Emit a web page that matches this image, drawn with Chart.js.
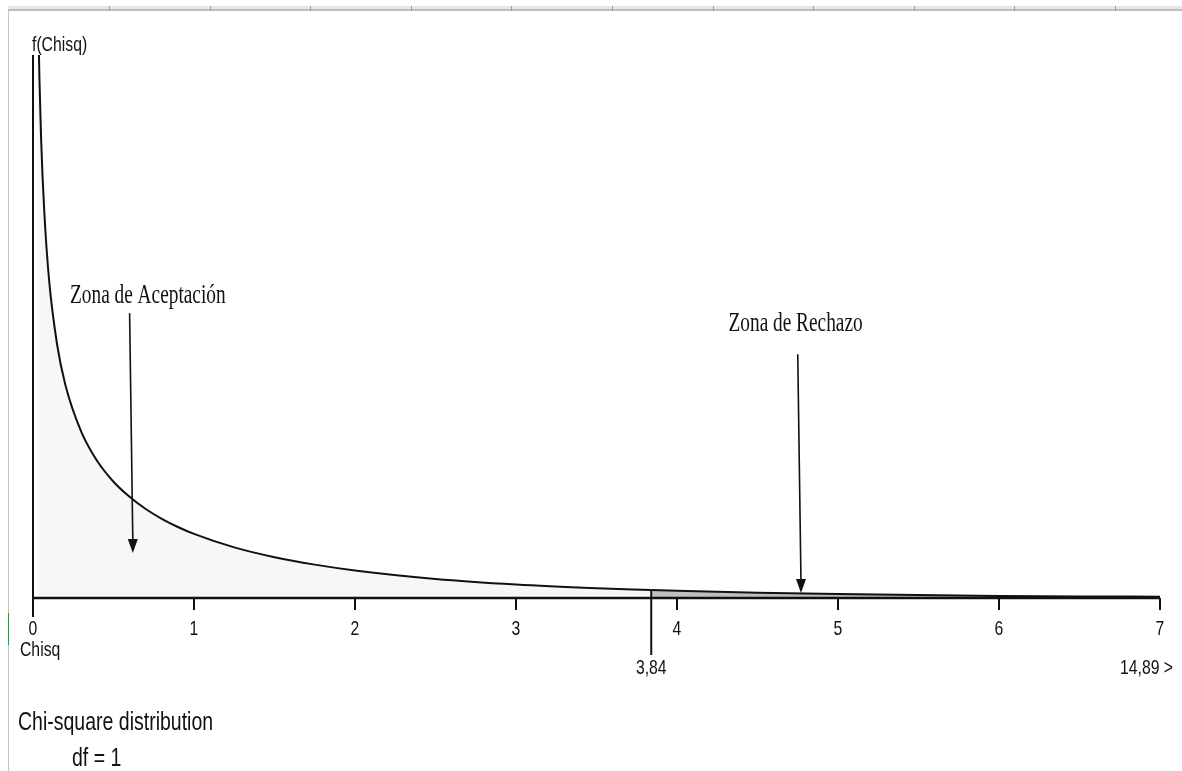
<!DOCTYPE html>
<html>
<head>
<meta charset="utf-8">
<script src="https://cdn.jsdelivr.net/npm/chart.js@4.4.1/dist/chart.umd.min.js"></script>
<style>
html, body { margin: 0; padding: 0; background: #fff; }
#wrap { width: 1182px; height: 771px; position: relative; }
</style>
</head>
<body>
<div id="wrap"><canvas id="chiChart"></canvas></div>
<script>
// densidad chi-cuadrado (df = 1)
const chisqX = [0.03, 0.04, 0.05, 0.07, 0.1, 0.15, 0.2, 0.3, 0.4, 0.5, 0.6, 0.7, 0.8, 0.9, 1.0,
                1.25, 1.5, 1.75, 2.0, 2.5, 3.0, 3.5, 3.84, 4.0, 4.5, 5.0, 5.5, 6.0, 6.5, 7.0];
const density = [2.27, 1.96, 1.74, 1.46, 1.20, 0.956, 0.807, 0.627, 0.516, 0.439, 0.382, 0.336, 0.299, 0.268, 0.242,
                 0.191, 0.154, 0.126, 0.104, 0.072, 0.051, 0.037, 0.030, 0.027, 0.020, 0.015, 0.011, 0.008, 0.006, 0.005];
const xTicks = [0, 1, 2, 3, 4, 5, 6, 7];
const critical = 3.84;
const criticalLabel = '3,84';
const maxLabel = '14,89 >';
const yTitle = 'f(Chisq)';
const xTitle = 'Chisq';
const chartTitle = ['Chi-square distribution', 'df = 1'];
// textos con flecha: [texto, x texto, y texto, x flecha arriba, y arriba, x punta, y punta]
const zonas = [
    ['Zona de Aceptación', 0.23, 1.113, 0.60, 1.075, 0.62, 0.17],
    ['Zona de Rechazo', 4.32, 1.008, 4.75, 0.92, 4.77, 0.019]
];

const accept = chisqX.map((x, i) => ({ x: x, y: density[i] })).filter(p => p.x <= critical);
const reject = chisqX.map((x, i) => ({ x: x, y: density[i] })).filter(p => p.x >= critical);

const SANS = '"Liberation Sans", Arial, sans-serif';
const SERIF = '"Liberation Serif", "Times New Roman", serif';

function txt(ctx, s, x, y, font, align, base, hs) {
    ctx.save();
    ctx.font = font;
    ctx.textAlign = align;
    ctx.textBaseline = base;
    ctx.fillStyle = '#111';
    ctx.translate(x, y);
    ctx.scale(hs, 1);
    ctx.fillText(s, 0, 0);
    ctx.restore();
}

const marco = {
    id: 'marco',
    beforeDraw(chart) {
        const ctx = chart.ctx;
        ctx.save();
        ctx.fillStyle = '#fff';
        ctx.fillRect(0, 0, chart.width, chart.height);
        // restos de la hoja de cálculo
        ctx.fillStyle = '#e6e6e6';
        ctx.fillRect(8, 6, chart.width - 8, 3);
        ctx.fillStyle = '#bdbdbd';
        ctx.fillRect(8, 9, chart.width - 8, 2);
        ctx.fillStyle = '#999';
        for (let c = 109; c < chart.width; c += 100.6) ctx.fillRect(Math.round(c), 6, 1, 5);
        ctx.fillStyle = '#c4c4c4';
        ctx.fillRect(8, 11, 1, chart.height - 11);
        ctx.fillStyle = '#3c8c50';
        ctx.fillRect(8, 613, 1, 32);
        ctx.restore();
    }
};

const ejes = {
    id: 'ejes',
    afterDatasetsDraw(chart) {
        const ctx = chart.ctx;
        const xs = chart.scales.x, ys = chart.scales.y;
        const a = chart.chartArea;
        const y0 = ys.getPixelForValue(0);
        ctx.save();
        ctx.strokeStyle = '#111';
        ctx.lineWidth = 2;
        // eje y
        ctx.beginPath();
        ctx.moveTo(xs.getPixelForValue(0), a.top);
        ctx.lineTo(xs.getPixelForValue(0), y0 + 19);
        ctx.stroke();
        // eje x
        ctx.lineWidth = 2.5;
        ctx.beginPath();
        ctx.moveTo(xs.getPixelForValue(0), y0);
        ctx.lineTo(xs.getPixelForValue(7), y0);
        ctx.stroke();
        ctx.lineWidth = 2;
        xTicks.forEach(t => {
            const px = xs.getPixelForValue(t);
            if (t > 0) {
                ctx.beginPath();
                ctx.moveTo(px, y0);
                ctx.lineTo(px, y0 + 12);
                ctx.stroke();
            }
            txt(ctx, String(t), px, y0 + 31, '21px ' + SANS, 'center', 'middle', 0.75);
        });
        // valor crítico
        const pc = xs.getPixelForValue(critical);
        ctx.beginPath();
        ctx.moveTo(pc, ys.getPixelForValue(density[chisqX.indexOf(critical)]));
        ctx.lineTo(pc, y0 + 57);
        ctx.stroke();
        txt(ctx, criticalLabel, pc, y0 + 70, '21px ' + SANS, 'center', 'middle', 0.75);
        txt(ctx, maxLabel, a.right + 13, y0 + 70, '21px ' + SANS, 'right', 'middle', 0.75);
        txt(ctx, xTitle, xs.getPixelForValue(0) - 13, y0 + 52, '21px ' + SANS, 'left', 'middle', 0.75);
        txt(ctx, yTitle, xs.getPixelForValue(0) - 1, a.top - 10, '21px ' + SANS, 'left', 'middle', 0.75);
        txt(ctx, chartTitle[0], 18, y0 + 125, '26px ' + SANS, 'left', 'middle', 0.75);
        txt(ctx, chartTitle[1], 72, y0 + 161, '26px ' + SANS, 'left', 'middle', 0.75);
        // zonas con flechas
        ctx.lineWidth = 1.6;
        ctx.fillStyle = '#111';
        zonas.forEach(z => {
            txt(ctx, z[0], xs.getPixelForValue(z[1]), ys.getPixelForValue(z[2]), '28px ' + SERIF, 'left', 'alphabetic', 0.69);
            const x1 = xs.getPixelForValue(z[3]), y1 = ys.getPixelForValue(z[4]);
            const x2 = xs.getPixelForValue(z[5]), y2 = ys.getPixelForValue(z[6]);
            ctx.beginPath();
            ctx.moveTo(x1, y1);
            ctx.lineTo(x2, y2 - 12);
            ctx.stroke();
            ctx.beginPath();
            ctx.moveTo(x2, y2);
            ctx.lineTo(x2 - 5, y2 - 14);
            ctx.lineTo(x2 + 5, y2 - 14);
            ctx.closePath();
            ctx.fill();
        });
        ctx.restore();
    }
};

const ctx = document.getElementById('chiChart').getContext('2d');
const chiChart = new Chart(ctx, {
    type: 'line',
    data: {
        datasets: [
            {
                label: 'Aceptación',
                data: accept,
                borderColor: '#111',
                borderWidth: 2,
                backgroundColor: '#f7f7f7',
                fill: 'origin',
                pointRadius: 0,
                cubicInterpolationMode: 'monotone'
            },
            {
                label: 'Rechazo',
                data: reject,
                borderColor: '#111',
                borderWidth: 2,
                backgroundColor: '#bfbfbf',
                fill: 'origin',
                pointRadius: 0,
                cubicInterpolationMode: 'monotone'
            }
        ]
    },
    options: {
        responsive: true,
        maintainAspectRatio: false,
        animation: false,
        layout: { padding: { left: 33, right: 22, top: 55, bottom: 173 } },
        plugins: {
            legend: { display: false },
            tooltip: { enabled: false }
        },
        scales: {
            x: { type: 'linear', min: 0, max: 7, display: false },
            y: { min: 0, max: 2.05, display: false }
        }
    },
    plugins: [marco, ejes]
});
</script>
</body>
</html>
